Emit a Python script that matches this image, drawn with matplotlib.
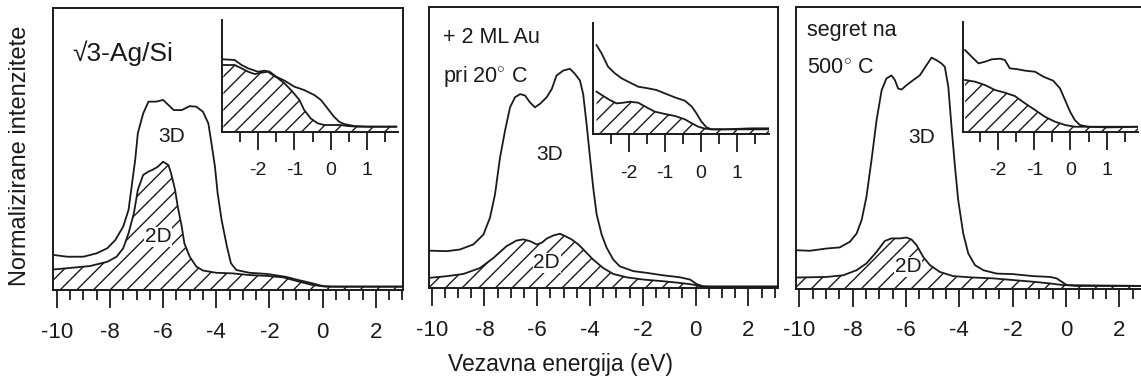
import matplotlib
matplotlib.use("Agg")
import matplotlib.pyplot as plt
from matplotlib.ticker import MultipleLocator

plt.rcParams['font.family'] = ['Liberation Sans', 'DejaVu Sans']
plt.rcParams['mathtext.fontset'] = 'custom'
plt.rcParams['mathtext.rm'] = 'Liberation Sans'
plt.rcParams['hatch.linewidth'] = 1.0
plt.rcParams['axes.unicode_minus'] = False

# ---------------- data: main panels (binding energy eV, normalized intensity) -------------
p1_3d_x = [-10.1, -9.6, -9.0, -8.5, -8.1, -7.8, -7.5, -7.3, -7.2, -7.05, -6.95, -6.75, -6.55, -6.25,
           -6.0, -5.8, -5.6, -5.3, -5.0, -4.75, -4.5, -4.3, -4.2, -4.05, -3.95, -3.8, -3.6, -3.45,
           -3.25, -2.75, -2.1, -1.4, -0.9, -0.4, 0.0, 0.4, 3.1]
p1_3d_y = [12.4, 11.8, 11.8, 13.0, 14.8, 17.7, 22.5, 28.4, 35.5, 46.1, 55.6, 62.6, 66.8, 66.8,
           67.4, 65.6, 63.8, 63.8, 65.2, 65.0, 63.2, 59.1, 53.2, 43.7, 34.3, 24.8, 15.4, 9.5,
           7.1, 6.1, 5.7, 4.7, 3.5, 2.4, 1.4, 1.2, 1.2]
p1_2d_x = [-10.1, -9.4, -8.75, -8.1, -7.75, -7.5, -7.3, -7.1, -6.95, -6.75, -6.55, -6.4, -6.2, -6.0,
           -5.8, -5.7, -5.55, -5.45, -5.3, -5.2, -5.0, -4.75, -4.5, -4.0, -3.4, -2.75, -2.1, -1.5,
           -0.9, -0.4, 0.1, 3.1]
p1_2d_y = [7.3, 7.9, 8.5, 10.0, 11.8, 14.8, 20.1, 27.2, 35.5, 40.8, 42.0, 42.6, 43.7, 45.5,
           44.3, 41.4, 35.5, 29.6, 22.5, 16.5, 11.8, 8.3, 6.9, 6.1, 5.9, 5.3, 5.0, 4.5,
           3.0, 1.8, 1.2, 1.2]

p2_3d_x = [-10.1, -9.43, -8.93, -8.42, -8.04, -7.79, -7.6, -7.41, -7.22, -7.03, -6.84, -6.65, -6.46,
           -6.28, -6.09, -5.9, -5.64, -5.45, -5.27, -5.01, -4.76, -4.57, -4.38, -4.26, -4.13, -4.0,
           -3.88, -3.75, -3.56, -3.37, -3.12, -2.87, -2.36, -1.86, -1.22, -0.59, -0.21, 0.04, 0.29,
           0.67, 3.1]
p2_3d_y = [13.3, 13.1, 13.7, 15.5, 19.0, 25.0, 33.3, 46.4, 56.0, 64.3, 67.9, 69.0, 68.5,
           66.1, 64.3, 65.5, 67.9, 70.8, 75.6, 77.4, 78.0, 76.2, 73.8, 69.0, 58.3, 46.4,
           35.7, 26.2, 19.0, 14.3, 10.1, 7.7, 6.0, 5.4, 4.5, 3.8, 3.0, 1.4, 0.6,
           0.5, 0.5]
p2_2d_x = [-10.1, -9.43, -8.8, -8.17, -7.66, -7.16, -6.78, -6.53, -6.28, -6.02, -5.83, -5.64, -5.39,
           -5.14, -4.95, -4.7, -4.44, -4.19, -3.88, -3.5, -3.12, -2.61, -1.98, -1.22, -0.59, -0.09,
           0.23, 3.1]
p2_2d_y = [3.6, 4.2, 5.0, 7.1, 10.7, 14.9, 16.9, 17.3, 16.7, 15.5, 16.1, 17.6, 18.7,
           19.3, 18.5, 17.3, 15.5, 13.1, 10.1, 7.1, 5.0, 3.8, 3.0, 2.4, 1.8, 1.2,
           0.5, 0.5]

p3_3d_x = [-10.1, -9.6, -8.98, -8.48, -8.1, -7.85, -7.66, -7.48, -7.29, -7.1, -6.91, -6.73, -6.54,
           -6.41, -6.29, -6.16, -5.98, -5.73, -5.48, -5.23, -5.04, -4.85, -4.66, -4.54, -4.41,
           -4.29, -4.16, -4.04, -3.85, -3.66, -3.41, -3.1, -2.6, -1.98, -1.23, -0.6, -0.35, -0.16,
           0.03, 0.4, 3.1]
p3_3d_y = [13.6, 13.4, 14.2, 14.6, 16.6, 19.5, 24.3, 32.5, 45.6, 59.8, 70.4, 74.6, 75.7,
           74.0, 71.0, 70.7, 72.2, 74.0, 75.7, 79.3, 82.0, 81.1, 79.9, 78.7, 71.6,
           57.4, 43.2, 31.4, 19.5, 12.4, 8.3, 6.5, 5.3, 5.1, 4.4, 4.1, 3.6, 2.4,
           1.2, 0.9, 0.9]
p3_2d_x = [-10.1, -8.98, -8.35, -7.85, -7.48, -7.1, -6.79, -6.54, -6.23, -5.98, -5.79, -5.6, -5.35,
           -5.1, -4.73, -4.23, -3.48, -2.73, -1.98, -1.23, -0.6, -0.1, 3.1]
p3_2d_y = [3.9, 4.1, 4.7, 6.5, 8.9, 13.0, 16.9, 17.8, 17.8, 18.1, 17.4, 15.4, 11.2,
           8.3, 5.9, 4.4, 3.9, 3.6, 3.0, 2.4, 1.8, 1.2, 0.9]

# ---------------- data: insets (near Fermi level) ----------------
i1_3d_x = [-2.95, -2.64, -2.45, -2.27, -2.0, -1.82, -1.68, -1.5, -1.27, -1.0, -0.73, -0.45, -0.27,
           -0.09, 0.09, 0.23, 0.36, 0.64, 1.0, 1.8]
i1_3d_y = [64.8, 64.2, 59.7, 56.7, 53.7, 54.6, 53.7, 49.3, 45.7, 40.3, 37.3, 32.8, 28.4,
           20.9, 13.4, 9.0, 6.9, 5.1, 4.5, 4.5]
i1_2d_x = [-2.95, -2.64, -2.45, -2.27, -2.09, -1.91, -1.73, -1.59, -1.45, -1.27, -1.05, -0.86, -0.73,
           -0.55, -0.36, -0.18, 0.09, 0.27, 0.45, 0.73, 1.09, 1.8]
i1_2d_y = [59.7, 59.7, 56.7, 53.7, 51.6, 52.8, 53.7, 50.7, 47.8, 43.3, 35.8, 28.4, 19.4,
           11.9, 7.5, 6.0, 6.0, 6.0, 5.1, 4.5, 4.5, 4.5]

i2_3d_x = [-2.9, -2.76, -2.58, -2.39, -2.2, -2.02, -1.74, -1.46, -1.23, -1.0, -0.72, -0.44, -0.25,
           -0.12, 0.02, 0.16, 0.3, 0.67, 1.42, 1.9]
i2_3d_y = [79.9, 72.5, 60.5, 54.5, 50.0, 47.0, 42.5, 41.0, 39.5, 36.5, 32.9, 29.9, 24.6,
           18.6, 11.1, 6.0, 4.2, 4.2, 5.1, 5.1]
i2_2d_x = [-2.9, -2.71, -2.53, -2.34, -2.16, -1.97, -1.74, -1.51, -1.28, -1.0, -0.72, -0.44, -0.25,
           -0.07, 0.12, 0.3, 1.9]
i2_2d_y = [38.0, 34.1, 30.5, 27.5, 28.1, 29.0, 28.1, 24.0, 20.1, 18.0, 16.2, 13.2, 9.6,
           6.6, 4.8, 4.2, 4.2]

i3_3d_x = [-2.92, -2.74, -2.55, -2.37, -2.18, -1.95, -1.82, -1.68, -1.45, -1.26, -0.98, -0.75, -0.48,
           -0.29, -0.15, -0.01, 0.12, 0.26, 0.49, 1.05, 1.88]
i3_3d_y = [74.2, 68.2, 62.1, 63.6, 65.8, 66.4, 65.2, 57.6, 56.7, 55.5, 54.5, 50.0, 46.4,
           39.4, 28.8, 18.2, 10.6, 6.1, 4.5, 3.9, 4.5]
i3_2d_x = [-2.92, -2.65, -2.37, -2.09, -1.82, -1.54, -1.26, -0.98, -0.71, -0.43, -0.15, 0.12,
           0.49, 1.88]
i3_2d_y = [47.0, 45.5, 42.4, 37.9, 35.5, 32.4, 25.8, 19.7, 13.6, 9.1, 6.1, 4.5,
           4.5, 4.5]

main_ticks = [-10, -8, -6, -4, -2, 0, 2]
inset_ticks = [-2, -1, 0, 1]
label_3d = "3D"
label_2d = "2D"
titles = [["√3-Ag/Si"], ["+ 2 ML Au", "pri 20$^{\\circ}$ C"], ["segret na", "500$^{\\circ}$ C"]]
ylabel = "Normalizirane intenzitete"
xlabel = "Vezavna energija (eV)"

W, H = 1141, 381
fig = plt.figure(figsize=(W / 100, H / 100), dpi=100)


def px_axes(l, t, r, b):
    return fig.add_axes([l / W, 1 - b / H, (r - l) / W, (b - t) / H])


LW = 1.3
INK = "#1a1a1a"


def style_main(ax, xlim):
    ax.set_xlim(*xlim)
    ax.set_ylim(0, 100)
    ax.set_yticks([])
    ax.xaxis.set_major_locator(MultipleLocator(2))
    ax.xaxis.set_minor_locator(MultipleLocator(0.5))
    ax.tick_params(axis='x', which='major', direction='out', length=13, width=1.3,
                   labelsize=16, pad=10, colors=INK)
    ax.tick_params(axis='x', which='minor', direction='out', length=7, width=1.3, colors=INK)
    for s in ax.spines.values():
        s.set_linewidth(1.4)
        s.set_color(INK)


def style_inset(ax, xlim):
    ax.set_xlim(*xlim)
    ax.set_ylim(0, 100)
    ax.set_yticks([])
    ax.set_xticks(inset_ticks)
    ax.xaxis.set_minor_locator(MultipleLocator(0.5))
    ax.tick_params(axis='x', which='major', direction='out', length=13, width=1.3,
                   labelsize=14, pad=9, colors=INK)
    ax.tick_params(axis='x', which='minor', direction='out', length=7, width=1.3, colors=INK)
    ax.spines['top'].set_visible(False)
    ax.spines['right'].set_visible(False)
    for s in ('left', 'bottom'):
        ax.spines[s].set_linewidth(1.4)
        ax.spines[s].set_color(INK)
    ax.patch.set_alpha(0)


def draw(ax, x3, y3, x2, y2):
    ax.fill_between(x2, y2, 0, facecolor='none', edgecolor=INK, hatch='//', linewidth=0)
    ax.plot(x2, y2, color=INK, lw=LW)
    ax.plot(x3, y3, color=INK, lw=LW)


panels = [
    dict(box=(53, 8, 403, 290), xlim=(-10.14, 3.02), d=(p1_3d_x, p1_3d_y, p1_2d_x, p1_2d_y),
         inset=(222.3, 20, 397.7, 131.7), ixlim=(-2.98, 1.84),
         idata=(i1_3d_x, i1_3d_y, i1_2d_x, i1_2d_y),
         l3=(-5.69, 54.4), l2=(-6.19, 18.9), tpos=[(0.054, 0.84)], tsize=19),
    dict(box=(429, 7, 778, 288), xlim=(-10.1, 3.12), d=(p2_3d_x, p2_3d_y, p2_2d_x, p2_2d_y),
         inset=(593.3, 22.7, 769, 134), ixlim=(-2.99, 1.9),
         idata=(i2_3d_x, i2_3d_y, i2_2d_x, i2_2d_y),
         l3=(-5.52, 47.6), l2=(-5.64, 8.9), tpos=[(0.04, 0.893), (0.04, 0.751)], tsize=15.5),
    dict(box=(796, 7, 1146, 288.5), xlim=(-10.12, 3.0), d=(p3_3d_x, p3_3d_y, p3_2d_x, p3_2d_y),
         inset=(963.3, 21.7, 1138.3, 131.7), ixlim=(-2.97, 1.88),
         idata=(i3_3d_x, i3_3d_y, i3_2d_x, i3_2d_y),
         l3=(-5.41, 53.8), l2=(-5.91, 7.7), tpos=[(0.031, 0.918), (0.031, 0.783)], tsize=15.5),
]

for i, p in enumerate(panels):
    ax = px_axes(*p['box'])
    style_main(ax, p['xlim'])
    ax.set_xticks(main_ticks)
    draw(ax, *p['d'])
    ax.text(*p['l3'], label_3d, fontsize=15, ha='center', va='center', color=INK)
    ax.text(*p['l2'], label_2d, fontsize=15, ha='center', va='center', color=INK,
            bbox=dict(facecolor='white', edgecolor='none', pad=0.5))
    for (tx, ty), t in zip(p['tpos'], titles[i]):
        ax.text(tx, ty, t, transform=ax.transAxes, fontsize=p['tsize'], ha='left', va='center',
                color=INK)
    ia = px_axes(*p['inset'])
    style_inset(ia, p['ixlim'])
    draw(ia, *p['idata'])

fig.text(20 / W, 1 - 156 / H, ylabel, rotation=90, ha='center', va='center', fontsize=17, color=INK)
fig.text(561 / W, 1 - 365 / H, xlabel, ha='center', va='center', fontsize=16.5, color=INK)

fig.savefig("out.png", dpi=100, facecolor='white')
